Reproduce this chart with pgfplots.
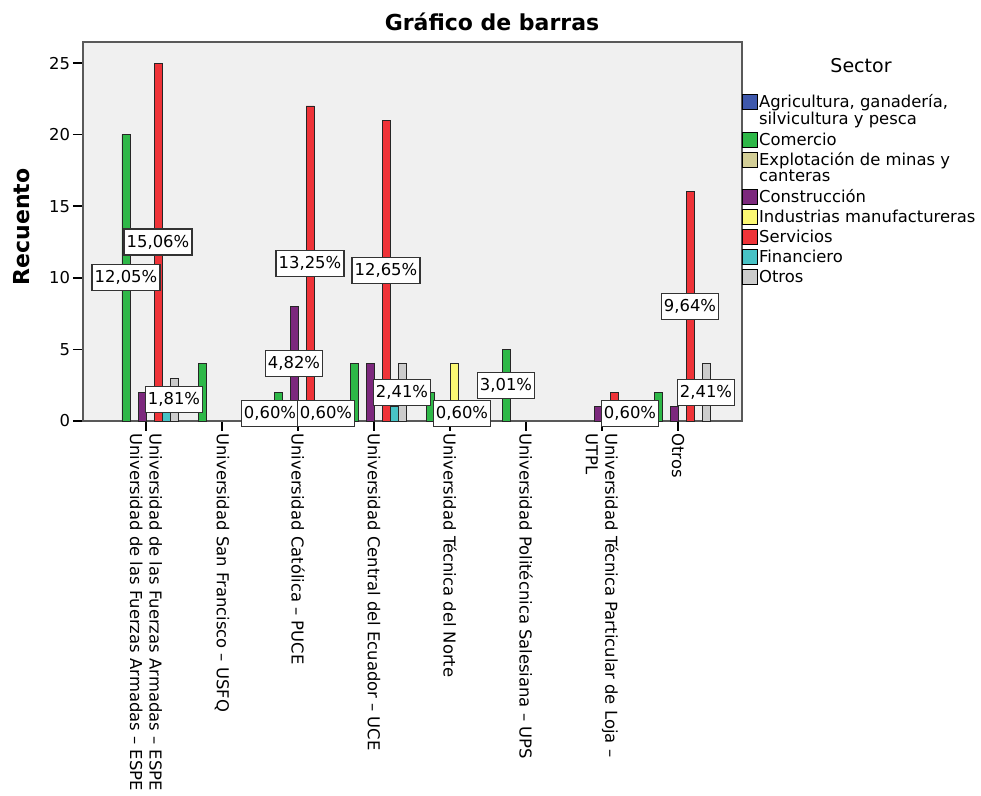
\documentclass[border=0pt]{standalone}
\usepackage{fontspec}
\setmainfont{DejaVu Sans}
\usepackage{pgfplots}
\pgfplotsset{compat=1.18}

\definecolor{cAgr}{HTML}{3E58AC}
\definecolor{cCom}{HTML}{2EB848}
\definecolor{cExp}{HTML}{D3CE97}
\definecolor{cCon}{HTML}{7C287D}
\definecolor{cInd}{HTML}{FBF873}
\definecolor{cSer}{HTML}{EF3338}
\definecolor{cFin}{HTML}{48C2C5}
\definecolor{cOtr}{HTML}{CCCCCC}
\definecolor{bgc}{HTML}{F0F0F0}

\newcommand\fs{\fontsize{8.2}{9.8}\selectfont}
% fixed height/depth so every legend row has the same pitch
\newcommand\lr{\rule[-2.2pt]{0pt}{7.8pt}}
\DeclareRobustCommand\legA{\begin{tabular}[t]{@{}l@{}}\lr Agricultura, ganadería,\\silvicultura y pesca\end{tabular}}
\DeclareRobustCommand\legE{\begin{tabular}[t]{@{}l@{}}\lr Explotación de minas y\\canteras\end{tabular}}

% one bar slot is 8px wide, 76px per category -> 0.10526 axis units
\pgfplotsset{
  sqleg/.style={legend image code/.code={\draw[##1,draw=black,line width=0.45pt] (0pt,-1pt) rectangle (7.3pt,6.3pt);}},
  sect/.style n args={2}{ybar, bar width=0.10526, bar shift=#1, fill=#2, draw=black!85, line width=0.45pt, sqleg},
}

\begin{document}
\begin{tikzpicture}
\begin{axis}[
  scale only axis, width=329.5pt, height=189.5pt,
  xmin=-0.829, xmax=7.842, ymin=0, ymax=26.47,
  axis background/.style={fill=bgc},
  axis line style={draw=black!65, line width=0.9pt},
  tick align=outside, major tick length=5pt,
  xtick pos=bottom, ytick pos=left,
  tick style={black, line width=0.8pt},
  xtick={0,...,7},
  xticklabels={
    {Universidad de las Fuerzas Armadas – ESPE\\Universidad de las Fuerzas Armadas – ESPE},
    {Universidad San Francisco – USFQ},
    {Universidad Católica – PUCE},
    {Universidad Central del Ecuador – UCE},
    {Universidad Técnica del Norte},
    {Universidad Politécnica Salesiana – UPS},
    {Universidad Técnica Particular de Loja –\\UTPL},
    {Otros}},
  x tick label style={rotate=-90, anchor=west, align=left, font=\fs, inner xsep=1pt},
  ytick={0,5,...,25},
  y tick label style={font=\fs, inner xsep=1.3pt},
  /pgf/number format/assume math mode=true,
  ylabel={Recuento},
  ylabel style={font=\bfseries\fontsize{11}{13}\selectfont, at={(axis description cs:-0.0926,0.512)}, anchor=center},
  clip=false,
  legend style={at={(1,0.862)}, anchor=north west, draw=none, fill=none,
    inner sep=0pt, outer sep=0pt, font=\fontsize{8.2}{8.2}\selectfont,
    cells={anchor=base west},
    nodes={inner xsep=0.8pt, inner ysep=0pt, text depth={}},
    row sep=1.25pt},
]
\addplot[sect={-0.3684}{cAgr}] coordinates {(2,1)};
\addlegendentry{\legA}
\addplot[sect={-0.2632}{cCom}] coordinates {(0,20) (1,4) (2,2) (3,4) (4,2) (5,5) (7,2)};
\addlegendentry{\lr Comercio}
\addlegendimage{sect={-0.1579}{cExp}}
\addlegendentry{\legE}
\addplot[sect={-0.0526}{cCon}] coordinates {(0,2) (2,8) (3,4) (6,1) (7,1)};
\addlegendentry{\lr Construcción}
\addplot[sect={0.0526}{cInd}] coordinates {(4,4)};
\addlegendentry{\lr Industrias manufactureras}
\addplot[sect={0.1579}{cSer}] coordinates {(0,25) (2,22) (3,21) (4,1) (6,2) (7,16)};
\addlegendentry{\lr Servicios}
\addplot[sect={0.2632}{cFin}] coordinates {(0,1) (3,1)};
\addlegendentry{\lr Financiero}
\addplot[sect={0.3684}{cOtr}] coordinates {(0,3) (2,1) (3,4) (6,1) (7,4)};
\addlegendentry{\lr Otros}

% percentage boxes, centred at half the height of their bar
\addplot[forget plot, only marks, mark=none, point meta=explicit symbolic,
  nodes near coords,
  nodes near coords style={anchor=center, draw=black!80, line width=0.6pt, fill=white,
    font=\fs, inner xsep=1.4pt, inner ysep=0pt, minimum height=13pt}]
  coordinates {
  (-0.2632,10) [12,05\%]
  (0.1579,12.5) [15,06\%]
  (0.3684,1.5) [1,81\%]
  (1.6316,0.5) [0,60\%]
  (2.3684,0.5) [0,60\%]
  (1.9474,4) [4,82\%]
  (2.1579,11) [13,25\%]
  (3.1579,10.5) [12,65\%]
  (3.3684,2) [2,41\%]
  (4.1579,0.5) [0,60\%]
  (4.7368,2.5) [3,01\%]
  (6.3684,0.5) [0,60\%]
  (7.1579,8) [9,64\%]
  (7.3684,2) [2,41\%]
  };

\node[font=\bfseries\fontsize{11}{13}\selectfont] at (rel axis cs:0.6206,1.0528) {Gráfico de barras};
\node[font=\fontsize{9.5}{11}\selectfont] at (rel axis cs:1.1806,0.939) {Sector};
\end{axis}
\path ([shift={(-41.5pt,-187.5pt)}]current axis.south west) rectangle ([shift={(449pt,210.5pt)}]current axis.south west);
\end{tikzpicture}
\end{document}
